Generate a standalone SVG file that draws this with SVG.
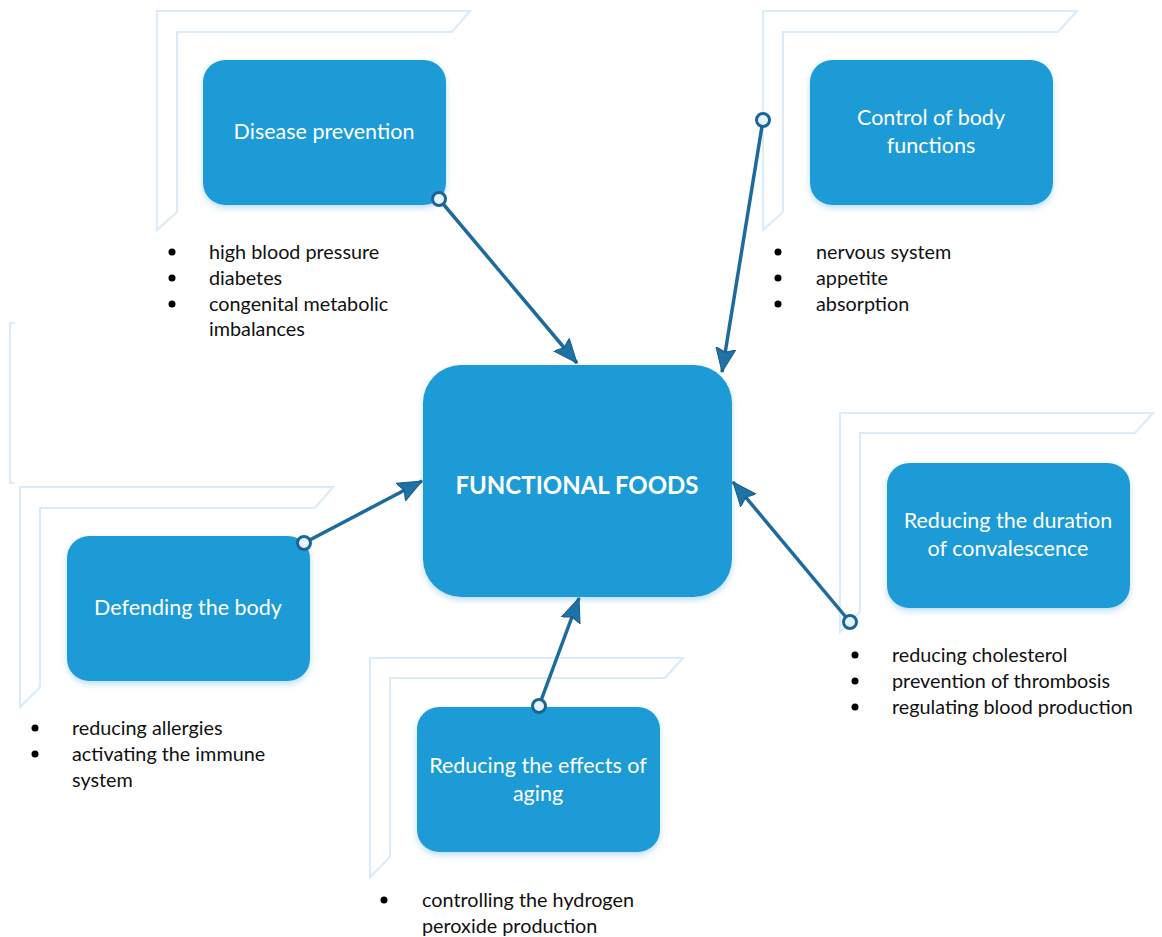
<svg xmlns="http://www.w3.org/2000/svg" width="1162" height="937" viewBox="0 0 1162 937">
<defs>
<style>
.frame{fill:#ffffff;stroke:#dbecf8;stroke-width:2.2;stroke-linejoin:miter}
.box{fill:#1f9bd7;filter:url(#sh)}
.lbl{font-family:Lato,"Open Sans","Liberation Sans",sans-serif;font-size:21.5px;fill:#ffffff;text-anchor:middle}
.main{font-family:Lato,"Open Sans","Liberation Sans",sans-serif;font-size:24px;font-weight:bold;fill:#ffffff;text-anchor:middle}
.bt{font-family:Lato,"Open Sans","Liberation Sans",sans-serif;font-size:19.8px;fill:#111111}
.dot{fill:#000000}
.con{stroke:#1d6b9d;stroke-width:3.5;fill:none;marker-end:url(#ah)}
.ring{fill:#e6f3fb;stroke:#1a6598;stroke-width:3}
</style>
<filter id="sh" x="-10%" y="-10%" width="120%" height="130%">
<feDropShadow dx="0" dy="3" stdDeviation="3" flood-color="#9fd0ee" flood-opacity="0.7"/>
</filter>
<marker id="ah" markerUnits="userSpaceOnUse" markerWidth="26" markerHeight="22" viewBox="0 0 26 22" refX="24" refY="11" orient="auto">
<path d="M0,1 L24,11 L0,21 L4,11 Z" fill="#1f72a6" stroke="#165a86" stroke-width="1"/>
</marker>
</defs>
<rect width="1162" height="937" fill="#ffffff"/>

<g id="frames">
<polygon class="frame" points="157,11 470,11 452,32 177,32 177,212 157,230"/>
<polygon class="frame" points="763,11 1077,11 1058,32 783,32 783,212 763,230"/>
<polyline points="15,323 10,323 10,483 15,483" fill="none" stroke="#dbecf8" stroke-width="2.2"/>
<polygon class="frame" points="20,487 333,487 315,508 40,508 40,687 20,707"/>
<polygon class="frame" points="840,413 1153,413 1135,433 860,433 860,612 840,632"/>
<polygon class="frame" points="370,658 683,658 665,678 390,678 390,857 370,877"/>
</g>

<g id="node-disease">
<rect class="box" x="203" y="60" width="243" height="145" rx="22"/>
<text class="lbl" x="324" y="139">Disease prevention</text>
</g>
<g id="node-control">
<rect class="box" x="810" y="60" width="243" height="145" rx="22"/>
<text class="lbl" x="931" y="125">Control of body</text>
<text class="lbl" x="931" y="153">functions</text>
</g>
<g id="node-main">
<rect class="box" x="423" y="365" width="309" height="232" rx="38"/>
<text class="main" x="577" y="494">FUNCTIONAL FOODS</text>
</g>
<g id="node-defending">
<rect class="box" x="67" y="536" width="243" height="145" rx="22"/>
<text class="lbl" x="188" y="615">Defending the body</text>
</g>
<g id="node-convalescence">
<rect class="box" x="887" y="463" width="243" height="145" rx="22"/>
<text class="lbl" x="1008" y="528">Reducing the duration</text>
<text class="lbl" x="1008" y="556">of convalescence</text>
</g>
<g id="node-aging">
<rect class="box" x="417" y="707" width="243" height="145" rx="22"/>
<text class="lbl" x="538" y="773">Reducing the effects of</text>
<text class="lbl" x="538" y="801">aging</text>
</g>

<g id="bullets">
<circle class="dot" cx="172" cy="252" r="3.5"/><text class="bt" x="209" y="259">high blood pressure</text>
<circle class="dot" cx="172" cy="278" r="3.5"/><text class="bt" x="209" y="285">diabetes</text>
<circle class="dot" cx="172" cy="304" r="3.5"/><text class="bt" x="209" y="311">congenital metabolic</text>
<text class="bt" x="209" y="336">imbalances</text>

<circle class="dot" cx="778" cy="252" r="3.5"/><text class="bt" x="816" y="259">nervous system</text>
<circle class="dot" cx="778" cy="278" r="3.5"/><text class="bt" x="816" y="285">appetite</text>
<circle class="dot" cx="778" cy="304" r="3.5"/><text class="bt" x="816" y="311">absorption</text>

<circle class="dot" cx="35" cy="728" r="3.5"/><text class="bt" x="72" y="735">reducing allergies</text>
<circle class="dot" cx="35" cy="754" r="3.5"/><text class="bt" x="72" y="761">activating the immune</text>
<text class="bt" x="72" y="787">system</text>

<circle class="dot" cx="855" cy="655" r="3.5"/><text class="bt" x="892" y="662">reducing cholesterol</text>
<circle class="dot" cx="855" cy="681" r="3.5"/><text class="bt" x="892" y="688">prevention of thrombosis</text>
<circle class="dot" cx="855" cy="707" r="3.5"/><text class="bt" x="892" y="714">regulating blood production</text>

<circle class="dot" cx="384" cy="900" r="3.5"/><text class="bt" x="422" y="907">controlling the hydrogen</text>
<text class="bt" x="422" y="933">peroxide production</text>
</g>

<g id="connectors">
<line class="con" x1="439" y1="199" x2="577" y2="363"/>
<line class="con" x1="763" y1="120" x2="722" y2="372"/>
<line class="con" x1="304" y1="543" x2="422" y2="481"/>
<line class="con" x1="539" y1="706" x2="579" y2="598"/>
<line class="con" x1="850" y1="622" x2="733" y2="482"/>
<circle class="ring" cx="439" cy="199" r="6.5"/>
<circle class="ring" cx="763" cy="120" r="6.5"/>
<circle class="ring" cx="304" cy="543" r="6.5"/>
<circle class="ring" cx="539" cy="706" r="6.5"/>
<circle class="ring" cx="850" cy="622" r="6.5"/>
</g>
</svg>
